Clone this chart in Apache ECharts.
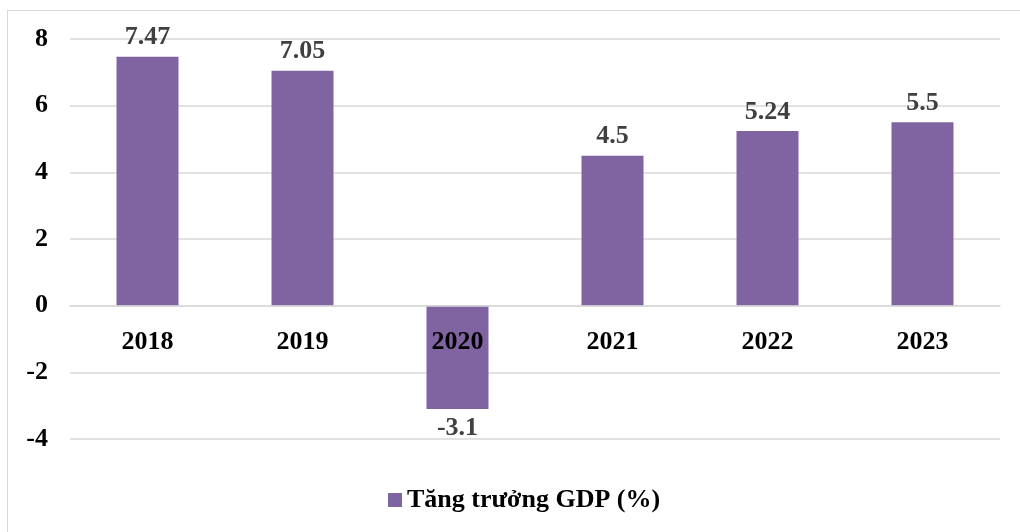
<!DOCTYPE html>
<html>
<head>
<meta charset="utf-8">
<script src="https://cdn.jsdelivr.net/npm/echarts@6/dist/echarts.min.js"></script>
<style>
  html, body { margin: 0; padding: 0; background: #fff; }
  #frame { position: absolute; left: 7px; top: 10px; width: 1100px; height: 600px; border: 1.5px solid #d9d9d9; }
  #chart { position: absolute; left: 0; top: 0; width: 1020px; height: 532px; }
</style>
</head>
<body>
<div id="frame"></div>
<div id="chart"></div>
<script>
const years = ['2018', '2019', '2020', '2021', '2022', '2023']
const gdpGrowth = [7.47, 7.05, -3.1, 4.5, 5.24, 5.5]
const seriesName = 'Tăng trưởng GDP (%)'
const yMin = -4, yMax = 8

const font = 'Liberation Serif, Times New Roman, serif'
const gridTop = 39, gridBottom = 93, chartH = 532
// pixel distance from grid bottom (yMin) up to the zero line
const zeroLift = (chartH - gridTop - gridBottom) * (0 - yMin) / (yMax - yMin)

const chart = echarts.init(document.getElementById('chart'))

chart.setOption({
  animation: false,
  grid: { left: 70, right: 20, top: gridTop, bottom: gridBottom },
  legend: {
    bottom: 14, left: 383,
    icon: 'rect', itemWidth: 14, itemHeight: 14, itemGap: 9,
    textStyle: { fontFamily: font, fontWeight: 'bold', fontSize: 26, color: '#000' },
    data: [seriesName]
  },
  xAxis: {
    type: 'category', data: years,
    offset: -zeroLift,
    z: 5,
    axisTick: { show: false },
    axisLine: { onZero: false, lineStyle: { color: '#d9d9d9', width: 1.5 } },
    axisLabel: { fontFamily: font, fontWeight: 'bold', fontSize: 26, color: '#000', margin: 24 }
  },
  yAxis: {
    type: 'value', min: yMin, max: yMax, interval: 2,
    axisLabel: { fontFamily: font, fontWeight: 'bold', fontSize: 26, color: '#000', margin: 22 },
    splitLine: { lineStyle: { color: '#d9d9d9', width: 1.5 } }
  },
  series: [{
    name: seriesName, type: 'bar', data: gdpGrowth, barWidth: 62,
    itemStyle: { color: '#8064a2' },
    label: {
      show: true, position: 'outside', distance: 6,
      fontFamily: font, fontWeight: 'bold', fontSize: 26, color: '#404040'
    }
  }]
})
</script>
</body>
</html>
